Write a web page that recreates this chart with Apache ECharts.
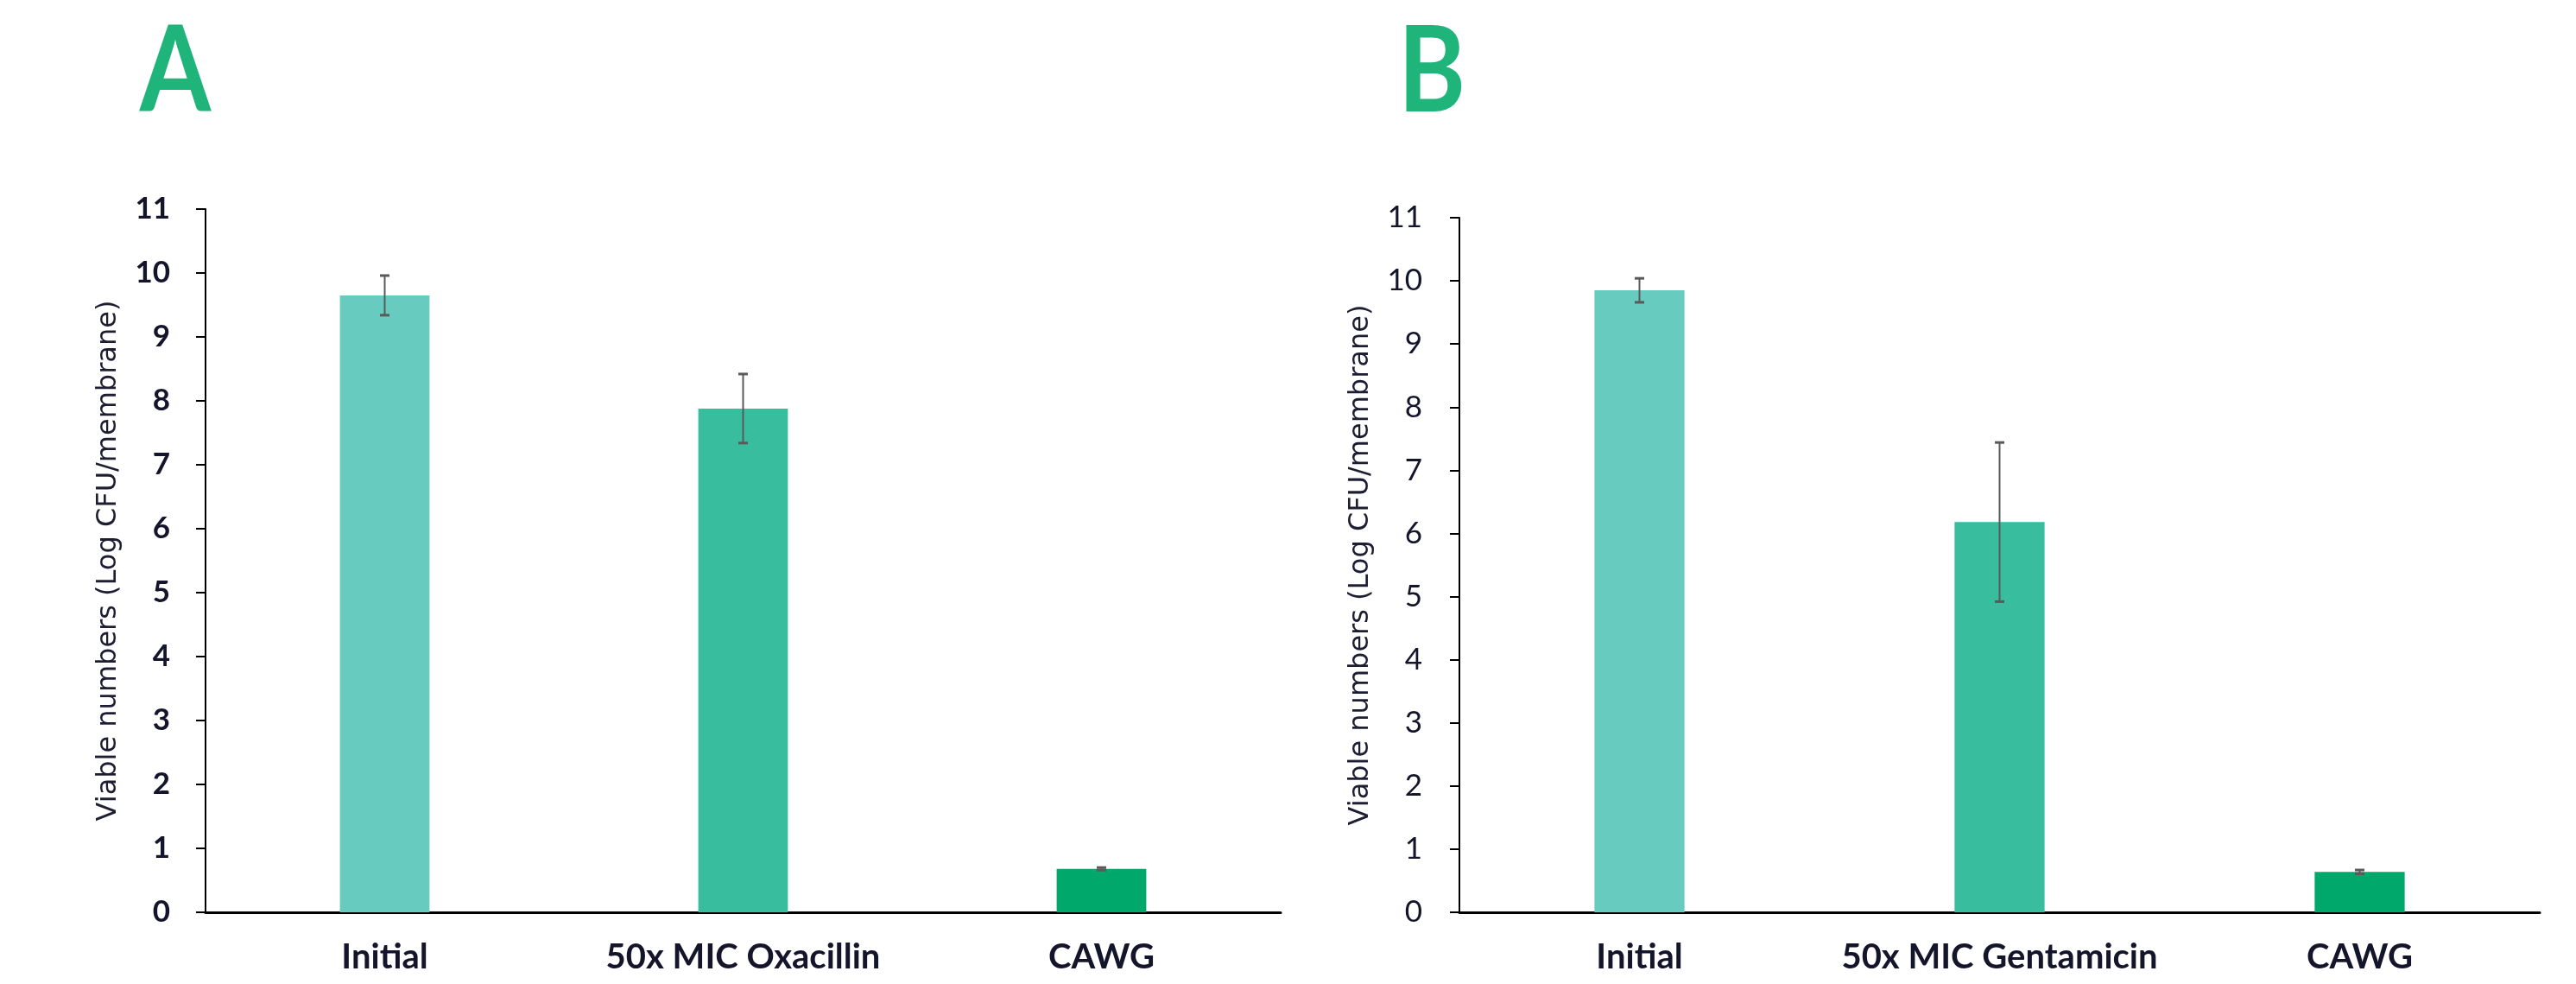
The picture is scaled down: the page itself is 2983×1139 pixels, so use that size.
<!DOCTYPE html>
<html>
<head>
<meta charset="utf-8">
<script src="https://cdn.jsdelivr.net/npm/echarts@6/dist/echarts.min.js"></script>
<style>
html,body{margin:0;padding:0;background:#fff;}
#chart{width:2983px;height:1139px;}
</style>
</head>
<body>
<div id="chart"></div>
<script>
const categoriesA = ['Initial', '50x MIC Oxacillin', 'CAWG'];
const valuesA = [9.65, 7.88, 0.68];
const errorsA = [0.31, 0.54, 0.02];

const categoriesB = ['Initial', '50x MIC Gentamicin', 'CAWG'];
const valuesB = [9.85, 6.18, 0.64];
const errorsB = [0.19, 1.26, 0.03];

const yMin = 0, yMax = 11, yStep = 1;
const panelLetters = ['A', 'B'];
const axisTitle = 'Viable numbers (Log CFU/membrane)';

const barColors = ['#68CBBF', '#38BD9E', '#00A86B'];
const textColor = '#14142B';

const chart = echarts.init(document.getElementById('chart'), null, {renderer: 'canvas'});

function errorSeries(idx, values, errors) {
  return {
    type: 'custom',
    xAxisIndex: idx, yAxisIndex: idx,
    z: 5,
    data: values.map((v, i) => [i, v, errors[i]]),
    renderItem: function (params, api) {
      const x = api.value(0), v = api.value(1), e = api.value(2);
      const top = api.coord([x, v + e]);
      const bot = api.coord([x, v - e]);
      const cw = 5.5;
      const st = {stroke: '#5A5A5A', lineWidth: 2};
      const cap = {stroke: '#5A5A5A', lineWidth: 3};
      return {
        type: 'group',
        children: [
          {type: 'line', shape: {x1: top[0], y1: top[1], x2: bot[0], y2: bot[1]}, style: st},
          {type: 'line', shape: {x1: top[0] - cw, y1: top[1], x2: top[0] + cw, y2: top[1]}, style: cap},
          {type: 'line', shape: {x1: bot[0] - cw, y1: bot[1], x2: bot[0] + cw, y2: bot[1]}, style: cap}
        ]
      };
    }
  };
}

function xAxisCfg(idx, cats) {
  return {
    type: 'category', gridIndex: idx, data: cats,
    axisLine: {show: true, lineStyle: {color: '#000', width: 3}},
    axisTick: {show: false},
    axisLabel: {interval: 0, color: textColor, fontFamily: 'Lato', fontWeight: 'bold', fontSize: 40, margin: 32}
  };
}

function yAxisCfg(idx, bold, gap, margin) {
  return {
    type: 'value', gridIndex: idx, min: yMin, max: yMax, interval: yStep,
    name: axisTitle, nameLocation: 'middle', nameRotate: 90, nameGap: gap,
    nameTextStyle: {color: '#1E1E32', fontFamily: 'DejaVu Sans', fontSize: 32},
    axisLine: {show: true, lineStyle: {color: '#000', width: 2}},
    axisTick: {show: true, inside: false, length: 11, lineStyle: {color: '#000', width: 2}},
    splitLine: {show: false},
    axisLabel: {color: textColor, fontFamily: 'Lato', fontWeight: bold ? 'bold' : 'normal', fontSize: 35, margin: margin}
  };
}

function barSeries(idx, values) {
  return {
    type: 'bar', xAxisIndex: idx, yAxisIndex: idx,
    data: values, barWidth: '25%',
    itemStyle: {color: p => barColors[p.dataIndex]}
  };
}

const option = {
  backgroundColor: '#ffffff',
  animation: false,
  grid: [
    {left: 238, right: 1500, top: 242, bottom: 83},
    {left: 1690, right: 42, top: 252, bottom: 83}
  ],
  graphic: [
    {type: 'text', x: 203, y: 84, scaleX: 0.86,
     style: {text: panelLetters[0], font: 'bold 138px Lato', fill: '#1FB57A', align: 'center', verticalAlign: 'middle'}},
    {type: 'text', x: 1658, y: 84, scaleX: 0.86,
     style: {text: panelLetters[1], font: 'bold 138px Lato', fill: '#1FB57A', align: 'center', verticalAlign: 'middle'}}
  ],
  xAxis: [xAxisCfg(0, categoriesA), xAxisCfg(1, categoriesB)],
  yAxis: [yAxisCfg(0, true, 96, 41), yAxisCfg(1, false, 98, 43)],
  series: [
    barSeries(0, valuesA), errorSeries(0, valuesA, errorsA),
    barSeries(1, valuesB), errorSeries(1, valuesB, errorsB)
  ]
};
chart.setOption(option);
</script>
</body>
</html>
